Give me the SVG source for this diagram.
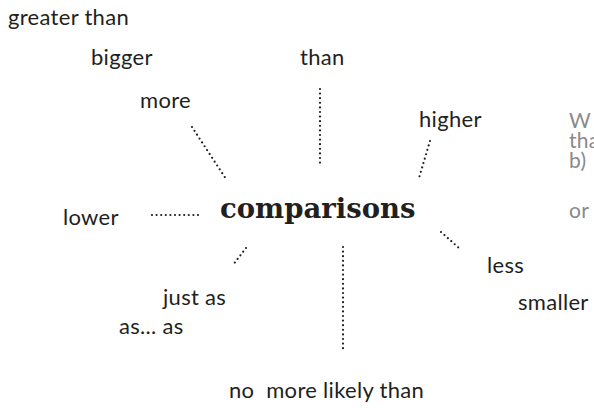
<svg xmlns="http://www.w3.org/2000/svg" width="594" height="408" viewBox="0 0 594 408">
<style>
.t{font-family:Lato,"Open Sans","Liberation Sans",sans-serif;font-size:22px;letter-spacing:0.3px;fill:#231f20}
.g{font-family:Lato,"Open Sans","Liberation Sans",sans-serif;font-size:21px;letter-spacing:0.3px;fill:#8a8a8a}
.c{font-family:"DejaVu Serif","Liberation Serif",serif;font-size:27.5px;font-weight:bold;fill:#231f20}
.d{stroke:#231f20;stroke-width:2.2;stroke-linecap:round;stroke-dasharray:0 4.6;fill:none}
</style>
<rect width="594" height="408" fill="#fff"/>
<g id="connectors">
<line class="d" x1="192" y1="127" x2="226" y2="179"/>
<line class="d" x1="320" y1="89" x2="320" y2="166"/>
<line class="d" x1="430" y1="141" x2="419" y2="178"/>
<line class="d" x1="152" y1="215" x2="202" y2="215"/>
<line class="d" x1="246" y1="248" x2="233" y2="265"/>
<line class="d" x1="343" y1="247" x2="343" y2="349"/>
<line class="d" x1="441" y1="232" x2="460" y2="249"/>
</g>
<g id="center"><text class="c" x="220" y="218">comparisons</text></g>
<g id="greater-than"><text class="t" x="8" y="25">greater than</text></g>
<g id="bigger"><text class="t" x="91" y="65">bigger</text></g>
<g id="more"><text class="t" x="140" y="108">more</text></g>
<g id="than"><text class="t" x="300" y="65">than</text></g>
<g id="higher"><text class="t" x="419" y="127">higher</text></g>
<g id="lower"><text class="t" x="63" y="225">lower</text></g>
<g id="just-as"><text class="t" x="163" y="305">just as</text></g>
<g id="as-as"><text class="t" x="119" y="334">as... as</text></g>
<g id="no-more-likely"><text class="t" x="229" y="398" xml:space="preserve">no  more likely than</text></g>
<g id="less"><text class="t" x="487" y="273">less</text></g>
<g id="smaller"><text class="t" x="518" y="310">smaller</text></g>
<g id="side-text">
<text class="g" x="569" y="128">W</text>
<text class="g" x="569" y="148">tha</text>
<text class="g" x="569" y="168">b)</text>
<text class="g" x="569" y="218">or</text>
</g>
</svg>
